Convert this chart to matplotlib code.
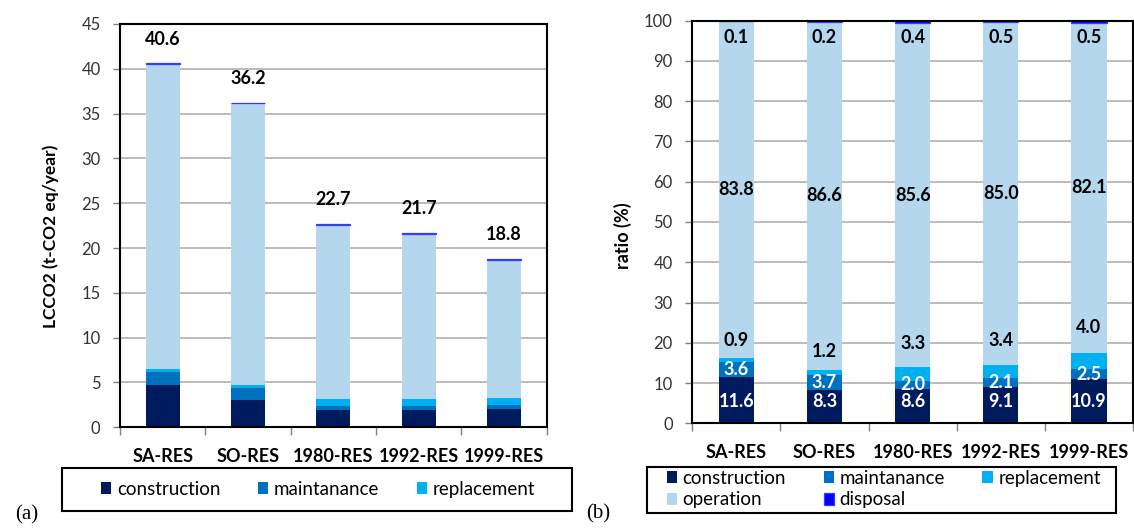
import numpy as np
import matplotlib.pyplot as plt
from matplotlib.patches import Rectangle

plt.rcParams['font.family'] = 'Lato'

cases = ['SA-RES', 'SO-RES', '1980-RES', '1992-RES', '1999-RES']
stages = ['construction', 'maintanance', 'replacement', 'operation', 'disposal']
colors = ['#001a5e', '#0070c0', '#00b0f0', '#b4d7ee', '#0000ff']

# LCCO2 per life-cycle stage (t-CO2 eq/year)
construction = [4.71, 3.00, 1.95, 1.97, 2.05]
maintanance = [1.46, 1.34, 0.45, 0.46, 0.47]
replacement = [0.37, 0.43, 0.75, 0.74, 0.75]
operation = [34.02, 31.36, 19.46, 18.42, 15.44]
disposal = [0.04, 0.07, 0.09, 0.11, 0.09]
totals = [40.6, 36.2, 22.7, 21.7, 18.8]

# share of each stage (%)
construction_pct = [11.6, 8.3, 8.6, 9.1, 10.9]
maintanance_pct = [3.6, 3.7, 2.0, 2.1, 2.5]
replacement_pct = [0.9, 1.2, 3.3, 3.4, 4.0]
operation_pct = [83.8, 86.6, 85.6, 85.0, 82.1]
disposal_pct = [0.1, 0.2, 0.4, 0.5, 0.5]

x = np.arange(len(cases))
W, H = 1134, 530

fig = plt.figure(figsize=(W / 100, H / 100), dpi=100)
ax1 = fig.add_axes([120 / W, 1 - 427.3 / H, 426.7 / W, 403.3 / H])
ax2 = fig.add_axes([692.3 / W, 1 - 423.3 / H, 440.7 / W, 402.6 / H])


def stack(ax, series):
    bottom = np.zeros(len(cases))
    handles = []
    for vals, c, name in zip(series, colors, stages):
        # the disposal share is tiny, give it an outline so it shows as a cap
        edge = dict(edgecolor='#3a3aff', linewidth=0.9) if name == 'disposal' else {}
        b = ax.bar(x, vals, 0.4, bottom=bottom, color=c, label=name, zorder=2, **edge)
        handles.append(b)
        bottom += np.array(vals)
    return handles


def style(ax, ymax, step):
    ax.set_xlim(-0.5, 4.5)
    ax.set_ylim(0, ymax)
    ax.set_yticks(np.arange(0, ymax + 1, step))
    ax.set_xticks(x, cases, fontweight='bold', fontsize=13)
    ax.set_xticks(np.arange(-0.5, 5), minor=True)
    ax.tick_params(axis='x', which='major', length=0, pad=15)
    ax.tick_params(axis='x', which='minor', length=6, width=1, color='#808080')
    ax.tick_params(axis='y', length=5, width=1, color='#808080', pad=9,
                   labelsize=12, labelcolor='#333333')
    ax.grid(axis='y', color='#b0b0b0', lw=1.2)
    ax.set_axisbelow(True)
    for s in ax.spines.values():
        s.set_linewidth(1.5)
        s.set_color('black')


# (a) absolute values
h1 = stack(ax1, [construction, maintanance, replacement, operation, disposal])
style(ax1, 45, 5)
for i, t in enumerate(totals):
    ax1.text(i, t + 2.7, f'{t:.1f}', ha='center', va='center',
             fontsize=13, fontweight='bold')
ax1.set_ylabel('LCCO2 (t-CO2 eq/year)', fontweight='bold', fontsize=12.5)
ax1.yaxis.set_label_coords(-0.143, 0.473)

# (b) ratios
pct = [construction_pct, maintanance_pct, replacement_pct, operation_pct, disposal_pct]
h2 = stack(ax2, pct)
style(ax2, 100, 10)
ax2.set_ylabel('ratio (%)', fontweight='bold', fontsize=13)
ax2.yaxis.set_label_coords(-0.137, 0.466)

lab = dict(ha='center', va='center', fontsize=13, fontweight='bold')
for i in range(len(cases)):
    c, m, r, o = (construction_pct[i], maintanance_pct[i],
                  replacement_pct[i], operation_pct[i])
    ax2.text(i, 5.5, f'{c:.1f}', color='white', **lab)
    ax2.text(i, c + m / 2, f'{m:.1f}', color='white', **lab)
    ax2.text(i, c + m + r + 4 + 0.6 * r, f'{r:.1f}', color='black', **lab)
    ax2.text(i, c + m + r + o / 2, f'{o:.1f}', color='black', **lab)
    ax2.text(i, 95.8, f'{disposal_pct[i]:.1f}', color='black', **lab)

# legend boxes
fig.patches.append(Rectangle((62 / W, 1 - 510.5 / H), 510 / W, 43 / H,
                             transform=fig.transFigure, fill=False,
                             edgecolor='black', lw=1.5))
fig.patches.append(Rectangle((647 / W, 1 - 513 / H), 469 / W, 46 / H,
                             transform=fig.transFigure, fill=False,
                             edgecolor='black', lw=1.5))

leg_kw = dict(frameon=False, fontsize=13.5, handlelength=0.55, handleheight=0.6,
              handletextpad=0.3, columnspacing=2.0, borderpad=0,
              borderaxespad=0, loc='center left')
fig.legend(h1[:3], stages[:3], ncol=3,
           bbox_to_anchor=(101 / W, 1 - 489.3 / H), **leg_kw)
order = [0, 3, 1, 4, 2]
fig.legend([h2[k] for k in order], [stages[k] for k in order], ncol=3,
           labelspacing=0.25, bbox_to_anchor=(666.6 / W, 1 - 489 / H), **leg_kw)

fig.text(26.7 / W, 1 - 515 / H, '(a)', family='Liberation Serif', fontsize=15,
         ha='center', va='center')
fig.text(598 / W, 1 - 514 / H, '(b)', family='Liberation Serif', fontsize=15,
         ha='center', va='center')

fig.savefig('out.png', dpi=100)
